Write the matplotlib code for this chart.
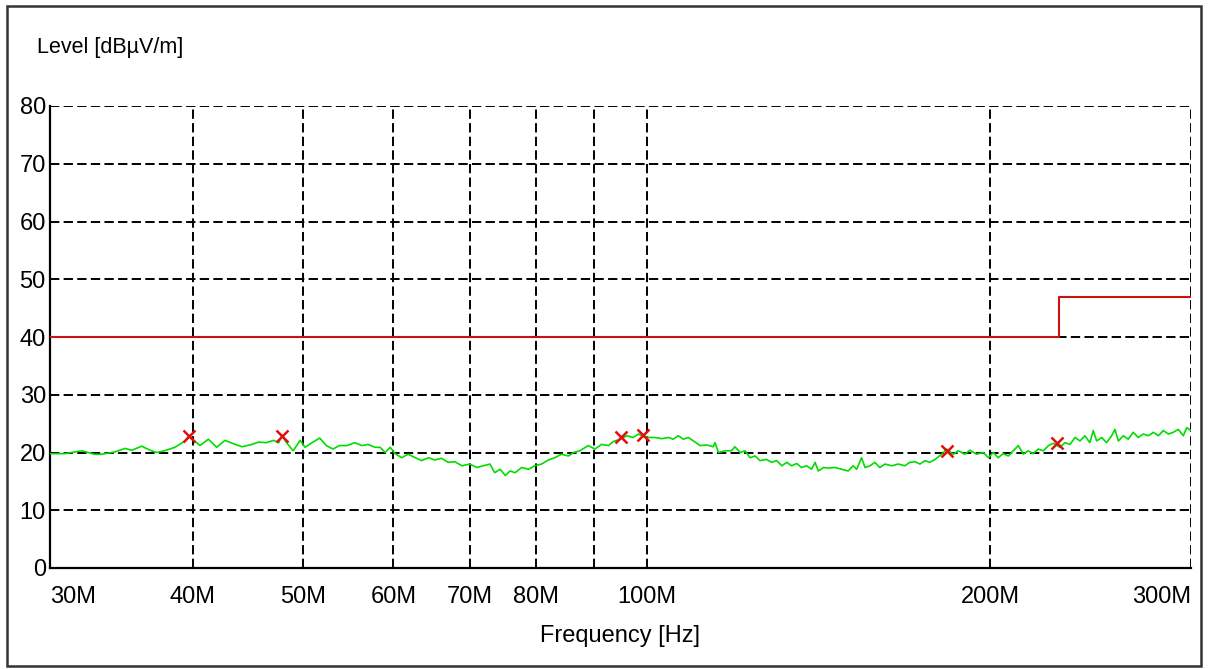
import numpy as np
import matplotlib
matplotlib.use("Agg")
import matplotlib.pyplot as plt
from matplotlib.ticker import FixedLocator, FixedFormatter, NullLocator
from matplotlib.patches import Rectangle

# measured trace, frequency in MHz, level in dBuV/m
trace_freq = [30.0, 30.9, 32.0, 32.4, 32.8, 33.3, 34.2, 34.9, 35.4, 36.1, 36.7, 37.2, 37.8, 38.6,
              39.4, 39.7, 40.0, 40.6, 41.3, 42.0, 42.7, 43.6, 44.2, 45.1, 45.7, 46.4, 47.1, 47.6,
              47.9, 48.4, 49.0, 49.7, 50.2, 50.9, 51.7, 52.4, 53.1, 53.8, 54.6, 55.5, 56.3, 57.0,
              57.8, 58.4, 59.0, 59.6, 60.2, 61.0, 61.8, 62.7, 63.5, 64.4, 65.2, 66.1, 67.0, 67.9,
              68.9, 70.0, 71.0, 71.9, 72.9, 73.6, 74.4, 75.2, 75.9, 76.7, 77.7, 78.8, 79.8, 80.9,
              82.0, 83.1, 84.2, 85.4, 86.3, 87.4, 88.9, 90.1, 91.3, 92.6, 93.5, 94.8, 96.1, 97.3,
              98.4, 99.0, 100.4, 101.7, 103.1, 104.5, 105.5, 106.6, 107.7, 108.8, 109.9, 111.4,
              112.9, 114.4, 114.8, 115.6, 117.2, 118.7, 119.5, 120.8, 122.0, 123.2, 124.5, 125.7,
              127.4, 128.7, 130.0, 131.4, 132.7, 134.0, 135.4, 136.7, 138.1, 139.5, 140.5, 141.4,
              142.9, 144.3, 146.3, 148.2, 150.2, 151.7, 152.8, 154.3, 155.4, 157.0, 158.5, 160.1,
              161.8, 164.0, 166.2, 168.4, 170.1, 171.9, 173.6, 175.4, 177.0, 179.0, 181.4, 183.2,
              185.7, 187.6, 190.1, 192.0, 194.6, 197.3, 199.3, 201.3, 203.3, 205.4, 207.5, 209.6,
              211.7, 213.9, 216.0, 218.2, 220.4, 222.7, 225.0, 227.2, 230.3, 232.6, 235.0, 237.4,
              239.8, 242.2, 244.6, 246.3, 248.0, 250.5, 253.0, 255.6, 257.3, 259.1, 261.7, 264.3,
              267.0, 269.7, 272.5, 275.2, 278.1, 280.9, 283.7, 286.6, 289.5, 292.4, 295.4, 297.4,
              300.0]
trace_level = [19.8, 19.8, 20.3, 20.0, 19.7, 19.7, 20.1, 20.7, 20.4, 21.1, 20.4, 20.0, 20.3, 20.9,
               22.0, 22.9, 22.3, 21.2, 22.3, 20.9, 22.1, 21.4, 21.0, 21.4, 21.8, 21.7, 22.1, 21.7,
               22.9, 21.6, 20.3, 22.1, 20.9, 21.7, 22.5, 21.2, 20.6, 21.2, 21.2, 21.7, 21.2, 21.4,
               20.9, 20.9, 20.0, 20.9, 19.8, 19.1, 19.7, 19.1, 18.6, 19.1, 18.7, 19.0, 18.3, 18.4,
               17.7, 18.0, 17.4, 17.7, 18.0, 16.5, 17.1, 16.0, 16.8, 16.5, 17.4, 17.1, 17.7, 18.0,
               18.7, 19.1, 19.7, 19.4, 20.0, 20.3, 21.2, 20.6, 21.4, 21.2, 21.9, 22.3, 22.9, 22.6,
               23.2, 22.9, 22.6, 22.6, 22.4, 22.6, 22.3, 22.9, 22.3, 22.6, 22.0, 21.2,
               21.3, 21.0, 21.7, 20.0, 20.3, 20.3, 21.0, 20.0, 20.3, 19.1, 19.4, 18.6,
               18.8, 18.3, 18.6, 17.7, 18.3, 17.7, 18.1, 17.4, 17.7, 17.1, 18.3, 16.8,
               17.4, 17.3, 17.4, 17.1, 16.8, 17.7, 17.1, 19.1, 17.4, 17.7, 18.3, 17.4,
               18.0, 17.7, 18.0, 17.7, 18.3, 18.4, 18.0, 18.6, 18.3, 18.8, 19.7, 20.6,
               19.7, 20.3, 19.7, 20.4, 19.7, 20.0, 19.1, 20.0, 19.1, 19.8, 19.4, 20.3,
               21.2, 19.7, 20.3, 19.8, 20.6, 20.3, 21.2, 21.6, 20.9, 21.7, 21.4, 22.6,
               22.0, 22.9, 21.7, 23.8, 22.0, 22.6, 21.7, 22.9, 24.0, 22.0, 22.9, 22.3,
               23.5, 22.6, 23.2, 22.9, 23.5, 22.9, 23.8, 23.2, 23.5, 24.0, 22.9, 24.3,
               23.8]

# limit line
limit_freq = [30, 230, 230, 300]
limit_level = [40, 40, 47, 47]

# peak markers
marker_freq = [39.7, 47.9, 95.0, 99.2, 183.2, 228.8]
marker_level = [22.8, 22.9, 22.6, 23.1, 20.3, 21.6]

xtick_vals = [30, 40, 50, 60, 70, 80, 90, 100, 200, 300]
xtick_labels = ['30M', '40M', '50M', '60M', '70M', '80M', '', '100M', '200M', '300M']
ytick_vals = [0, 10, 20, 30, 40, 50, 60, 70, 80]

plt.rcParams['font.family'] = ['Liberation Sans', 'DejaVu Sans']

W, H = 1210, 669
fig = plt.figure(figsize=(W / 100, H / 100), dpi=100)
ax = fig.add_axes([50 / W, 1 - 568 / H, (1191 - 50) / W, (568 - 106) / H])

ax.plot(trace_freq, trace_level, color='#00dd00', lw=1.2, zorder=3)
ax.plot(limit_freq, limit_level, color='#cc1111', lw=1.5, zorder=3)
ax.plot(marker_freq, marker_level, 'x', color='#e01010', ms=9, mew=1.8, zorder=4)

ax.set_xscale('log')
ax.set_xlim(30, 300)
ax.set_ylim(0, 80)
ax.xaxis.set_major_locator(FixedLocator(xtick_vals))
ax.xaxis.set_major_formatter(FixedFormatter(xtick_labels))
ax.xaxis.set_minor_locator(NullLocator())
ax.set_yticks(ytick_vals)

# dashed grid (about 9px on, 4px off)
ax.grid(True, which='major', color='black', lw=1.4, linestyle=(0, (4.8, 2.2)))
ax.set_axisbelow(True)

for s in ['top', 'right']:
    ax.spines[s].set_visible(False)
for s in ['left', 'bottom']:
    ax.spines[s].set_linewidth(1.6)

ax.tick_params(axis='y', length=0, pad=3, labelsize=17)
ax.tick_params(axis='x', length=0, pad=13, labelsize=17)
xl = ax.get_xticklabels()
xl[0].set_ha('left')
xl[-1].set_ha('right')

fig.text(37 / W, 1 - 47 / H, 'Level [dBµV/m]', fontsize=15.5, ha='left', va='center')
fig.text(620.5 / W, 1 - 636 / H, 'Frequency [Hz]', fontsize=17, ha='center', va='center')

fig.patches.append(Rectangle((7 / W, 1 - 666 / H), (1201 - 7) / W, (666 - 6) / H,
                             transform=fig.transFigure, fill=False, ec='#333333', lw=1.8))

fig.savefig('out.png', dpi=100)
